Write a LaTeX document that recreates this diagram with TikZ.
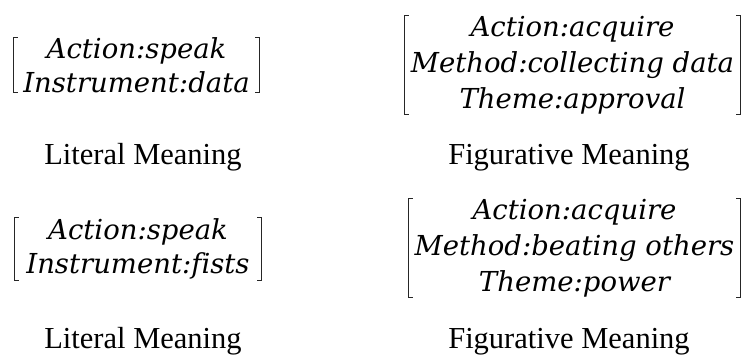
\documentclass[tikz,border=0pt]{standalone}
\usepackage{fontspec}
\usepackage{tikz}
\usepackage{xcolor}
\setmainfont{Liberation Serif}
\newfontfamily\featfont[Ligatures=NoCommon]{DejaVu Serif}

% square brackets round a feature node
\newcommand{\featbrackets}[1]{%
\draw[brk] ([xshift=4pt]#1.north west) -- (#1.north west) -- (#1.south west) -- ([xshift=4pt]#1.south west);
\draw[brk] ([xshift=-4pt]#1.north east) -- (#1.north east) -- (#1.south east) -- ([xshift=-4pt]#1.south east);}

\begin{document}
\begin{tikzpicture}[x=1pt, y=-1pt,
  feat/.style={inner sep=0pt, align=center, font=\featfont\itshape\fontsize{27.5}{34}\selectfont},
  feattall/.style={feat, font=\featfont\itshape\fontsize{27.5}{36}\selectfont},
  brk/.style={draw=black!85, line width=1.3pt},
  caption/.style={anchor=base, inner sep=0pt, font=\fontsize{30.5}{36}\selectfont}]
\useasboundingbox (0,0) rectangle (746,354);

% literal and figurative frames, first example
\node[feat, minimum width=245pt, minimum height=50pt] (litA) at (136.5,65) {Action:speak\\Instrument:data};
\node[feattall, minimum width=335pt, minimum height=90pt] (figA) at (572.5,65) {Action:acquire\\Method:collecting data\\Theme:approval};
\featbrackets{litA}
\featbrackets{figA}
\node[caption] (litAcap) at (143,164) {Literal Meaning};
\node[caption] (figAcap) at (569,164) {Figurative Meaning};

% second example
\node[feat, minimum width=246pt, minimum height=62pt] (litB) at (138,249) {Action:speak\\Instrument:fists};
\node[feattall, minimum width=331pt, minimum height=90pt] (figB) at (574.5,248) {Action:acquire\\Method:beating others\\Theme:power};
\featbrackets{litB}
\featbrackets{figB}
\node[caption] (litBcap) at (143,348) {Literal Meaning};
\node[caption] (figBcap) at (569,348) {Figurative Meaning};
\end{tikzpicture}
\end{document}
